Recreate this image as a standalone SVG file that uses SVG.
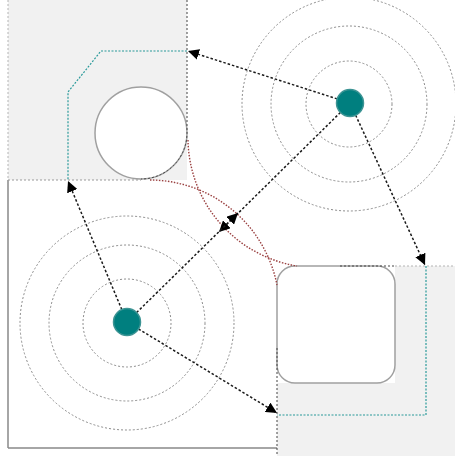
<svg xmlns="http://www.w3.org/2000/svg" width="455" height="456" viewBox="0 0 455 456">
  <defs>
    <marker id="arrow" viewBox="0 0 10 10" refX="10" refY="5" markerWidth="11" markerHeight="11" markerUnits="userSpaceOnUse" orient="auto">
      <path d="M0,0 L10,5 L0,10 z" fill="#000"/>
    </marker>
  </defs>
  <style>
    .region { fill: #f1f1f1; stroke: none; }
    .edge-light { fill: none; stroke: #b4b4b4; stroke-width: 1; stroke-dasharray: 2 2; }
    .edge-mid { fill: none; stroke: #999; stroke-width: 1; stroke-dasharray: 2 2; }
    .edge-dark { fill: none; stroke: #444; stroke-width: 1; stroke-dasharray: 2 2; }
    .frame { fill: none; stroke: #888; stroke-width: 1.5; }
    .ring { fill: none; stroke: #8c8c8c; stroke-width: 1; stroke-dasharray: 2 2; }
    .obstacle { fill: #fff; stroke: #a0a0a0; stroke-width: 1.5; }
    .teal { fill: none; stroke: #2a9a9a; stroke-width: 1.2; stroke-dasharray: 2 1.5; }
    .red { fill: none; stroke: #9a4040; stroke-width: 1.4; stroke-dasharray: 1.5 1.5; }
    .conn { fill: none; stroke: #1a1a1a; stroke-width: 1.5; stroke-dasharray: 2.5 2; }
    .node { fill: #007f7f; stroke: #3d9494; stroke-width: 1.5; }
  </style>

  <g id="frame">
    <line class="frame" x1="8" y1="180" x2="8" y2="448"/>
    <line class="frame" x1="8" y1="448" x2="277" y2="448"/>
  </g>

  <g id="region-top-left">
    <rect class="region" x="8" y="0" width="179" height="180"/>
    <line class="edge-light" x1="8" y1="0" x2="8" y2="180"/>
    <circle class="obstacle" cx="141" cy="133" r="46"/>
    <line class="edge-mid" x1="8" y1="180" x2="141" y2="180"/>
    <path class="edge-dark" d="M187,0 L187,133 A46,46 0 0 1 141,179"/>
  </g>

  <g id="region-bottom-right">
    <rect class="region" x="277" y="266" width="178" height="190"/>
    <rect x="277" y="266" width="118" height="117" fill="#fff"/>
    <rect class="obstacle" x="277" y="266" width="118" height="117" rx="18" ry="18"/>
    <line class="edge-light" x1="395" y1="266" x2="455" y2="266"/>
    <line class="edge-dark" x1="340" y1="266" x2="395" y2="266"/>
    <line class="edge-dark" x1="277" y1="348" x2="277" y2="456"/>
  </g>

  <g id="rings-top-right">
    <circle class="ring" cx="349" cy="104" r="43"/>
    <circle class="ring" cx="349" cy="104" r="78"/>
    <circle class="ring" cx="349" cy="104" r="107"/>
  </g>

  <g id="rings-bottom-left">
    <circle class="ring" cx="127" cy="323" r="44"/>
    <circle class="ring" cx="127" cy="323" r="78"/>
    <circle class="ring" cx="127" cy="323" r="107"/>
  </g>

  <g id="paths">
    <path class="teal" d="M187,51 L101,51 L68,92 L68,180"/>
    <path class="teal" d="M426,266 L426,415 L277,415"/>
    <path class="red" d="M150,180 A130,130 0 0 1 277,285"/>
    <path class="red" d="M188,140 A130,130 0 0 0 297,266"/>
  </g>

  <g id="connectors">
    <line class="conn" x1="350" y1="103" x2="188" y2="51" marker-end="url(#arrow)"/>
    <line class="conn" x1="350" y1="103" x2="425" y2="265" marker-end="url(#arrow)"/>
    <line class="conn" x1="350" y1="103" x2="219" y2="232" marker-end="url(#arrow)"/>
    <line class="conn" x1="127" y1="322" x2="238" y2="213" marker-end="url(#arrow)"/>
    <line class="conn" x1="127" y1="322" x2="68" y2="181" marker-end="url(#arrow)"/>
    <line class="conn" x1="127" y1="322" x2="277" y2="413" marker-end="url(#arrow)"/>
  </g>

  <g id="node-top-right">
    <circle class="node" cx="350" cy="103" r="13.5"/>
  </g>
  <g id="node-bottom-left">
    <circle class="node" cx="127" cy="322" r="13.5"/>
  </g>
</svg>
